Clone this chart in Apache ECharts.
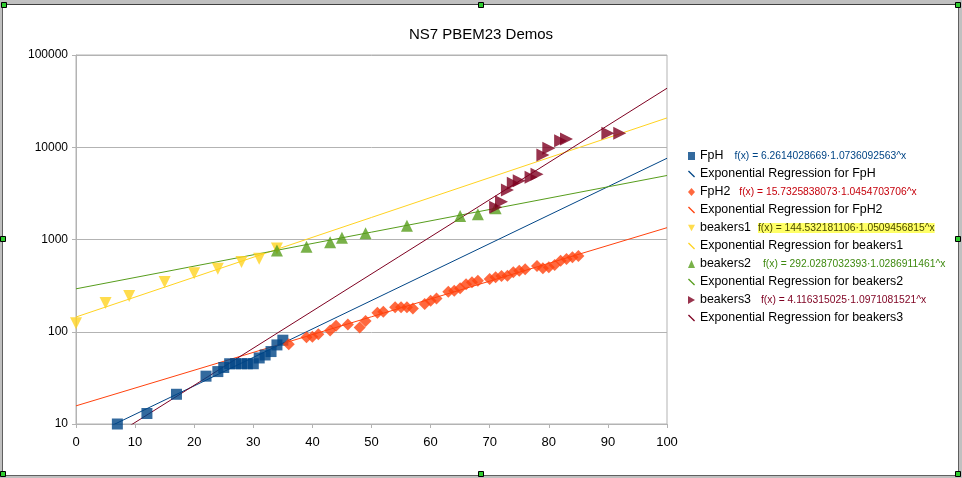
<!DOCTYPE html>
<html><head><meta charset="utf-8">
<script src="https://cdn.jsdelivr.net/npm/echarts@6/dist/echarts.min.js"></script>
<style>html,body{margin:0;padding:0;background:#fff}#c{width:962px;height:478px}</style>
</head><body><div id="c"></div>
<script>
// ---- data ----
const fphX = [7,12,17,22,24,25,26,27,28,29,30,31,32,33,34,35];
const fphY = [10,13,21,33,37,41,45,45,45,45,45,52,56,61,72,81];
const fph2X = [36,39,40,41,43,44,46,48,49,51,52,54,55,56,57,59,60,61,63,64,65,66,67,68,70,71,72,73,74,75,76,78,79,80,81,82,83,84,85];
const fph2Y = [73,87,88,94,103,116,120,111,131,161,165,184,184,184,179,200,217,230,272,279,296,327,344,358,373,389,402,405,441,459,475,516,487,500,529,589,615,641,662];
const b1X = [0,5,9,15,20,24,28,31,34];
const b1Y = [124,205,244,346,430,482,570,620,800];
const b2X = [34,39,43,45,49,56,65,68,71];
const b2Y = [760,836,933,1047,1167,1412,1797,1876,2178];
const b3X = [71,72,73,74,75,77,78,79,80,82,83,90,92];
const b3Y = [2234,2570,3441,4066,4345,4722,5090,8241,9750,11780,12280,14170,14170];
// regression line end points (x = 0 and x = 100)
const regX = [0, 100];
const regFpH = [6.2614, 7597];
const regFpH2 = [15.7326, 1343];
const regB1 = [144.532, 20800];
const regB2 = [292.029, 4942];
const regB3 = [4.1163, 43620];
const xTicks = [0,10,20,30,40,50,60,70,80,90,100];
const yTicks = [10,100,1000,10000,100000];
const equations = {
  'FpH': ['eqA', 'f(x) = 6.2614028669·1.0736092563^x'],
  'FpH2': ['eqB', 'f(x) = 15.7325838073·1.0454703706^x'],
  'beakers1': ['eqC', 'f(x) = 144.532181106·1.0509456815^x'],
  'beakers2': ['eqD', 'f(x) = 292.0287032393·1.0286911461^x'],
  'beakers3': ['eqE', 'f(x) = 4.116315025·1.0971081521^x']
};
// ---- styling ----
const C = {fph:'#004586', fph2:'#ff420e', b1:'#ffd320', b2:'#579d1c', b3:'#7e0021'};
const FONT = 'Liberation Sans, Arial, sans-serif';
const zip = (a,b) => a.map((v,i)=>[v,b[i]]);
const SYM_DOWN = 'path://M0,0L10,0L5,9Z';
const SYM_RIGHT = 'path://M0,0L9,5L0,10Z';
const SYM_SLASH = 'path://M0,1.3L1.3,0L10,8.7L8.7,10Z';

function scatter(name, x, y, color, symbol, size) {
  return {name, type:'scatter', data: zip(x,y), symbol, symbolSize:size, clip:false, z:5,
    itemStyle:{color}};
}
function reg(name, y, color) {
  return {name, type:'line', data: zip(regX,y), symbol:'none', clip:true, z:3,
    lineStyle:{color, width:1}, itemStyle:{color}};
}
const series = [
  scatter('FpH', fphX, fphY, C.fph, 'rect', 11),
  reg('Exponential Regression for FpH', regFpH, C.fph),
  scatter('FpH2', fph2X, fph2Y, C.fph2, 'diamond', 12),
  reg('Exponential Regression for FpH2', regFpH2, C.fph2),
  scatter('beakers1', b1X, b1Y, C.b1, SYM_DOWN, 12),
  reg('Exponential Regression for beakers1', regB1, C.b1),
  scatter('beakers2', b2X, b2Y, C.b2, 'triangle', 12),
  reg('Exponential Regression for beakers2', regB2, C.b2),
  scatter('beakers3', b3X, b3Y, C.b3, SYM_RIGHT, 13),
  reg('Exponential Regression for beakers3', regB3, C.b3)
];
const legendData = series.map(s => {
  const isLine = s.type === 'line';
  return {name: s.name, icon: isLine ? SYM_SLASH : (s.symbol === 'rect' ? 'rect' : s.symbol)};
});

const handles = [[4,5],[481,5],[958,5],[3,239],[958,239],[3,474],[481,474],[958,474]];
const graphic = [
  {type:'rect', shape:{x:0,y:0,width:962,height:4}, style:{fill:'#c0c0c0'}, z:100},
  {type:'line', shape:{x1:0,y1:4.5,x2:962,y2:4.5}, style:{stroke:'#404040',lineWidth:1}, z:100},
  {type:'rect', shape:{x:0,y:0,width:2,height:478}, style:{fill:'#c0c0c0'}, z:100},
  {type:'line', shape:{x1:2.5,y1:4,x2:2.5,y2:476}, style:{stroke:'#606060',lineWidth:1}, z:100},
  {type:'rect', shape:{x:959,y:0,width:3,height:478}, style:{fill:'#c0c0c0'}, z:100},
  {type:'line', shape:{x1:958.5,y1:4,x2:958.5,y2:476}, style:{stroke:'#606060',lineWidth:1}, z:100},
  {type:'rect', shape:{x:0,y:476,width:962,height:2}, style:{fill:'#c0c0c0'}, z:100},
  {type:'line', shape:{x1:2,y1:475.5,x2:959,y2:475.5}, style:{stroke:'#606060',lineWidth:1}, z:100}
].concat(handles.map(h => ({type:'rect', shape:{x:h[0]-2.5,y:h[1]-2.5,width:5,height:5},
  style:{fill:'#2ecc2e', stroke:'#000', lineWidth:1}, z:101})));

const chart = echarts.init(document.getElementById('c'), null, {renderer:'canvas'});
chart.setOption({
  animation:false,
  backgroundColor:'#ffffff',
  textStyle:{fontFamily:FONT},
  title:{text:'NS7 PBEM23 Demos', left:'center', top:22,
    textStyle:{fontFamily:FONT, fontSize:15, fontWeight:'normal', color:'#000'}},
  grid:{left:76, top:55, width:591, height:369, show:true, borderColor:'#b3b3b3', borderWidth:1, backgroundColor:'transparent'},
  xAxis:{type:'value', min:0, max:100, interval:10,
    axisLine:{show:true, lineStyle:{color:'#b3b3b3'}},
    axisTick:{show:true, length:4, lineStyle:{color:'#b3b3b3'}},
    splitLine:{show:false},
    axisLabel:{color:'#000', fontSize:13, fontFamily:FONT, margin:12,
      formatter: v => xTicks.includes(v) ? String(v) : ''}},
  yAxis:{type:'log', logBase:10, min:10, max:100000,
    axisLine:{show:true, lineStyle:{color:'#b3b3b3'}},
    axisTick:{show:true, length:4, lineStyle:{color:'#b3b3b3'}},
    splitLine:{show:true, lineStyle:{color:'#b3b3b3', width:1}},
    minorTick:{show:false},
    axisLabel:{color:'#000', fontSize:12, fontFamily:FONT, margin:8,
      formatter: v => { const r = Math.round(v); return yTicks.includes(r) ? String(r) : ''; }}},
  legend:{orient:'vertical', left:688, top:149, padding:0, itemWidth:7, itemHeight:8, itemGap:4.0,
    data:legendData,
    textStyle:{fontFamily:FONT, fontSize:12.4, color:'#000', lineHeight:14,
      rich:{
        eqA:{color:'#004586', fontSize:10.3, fontFamily:FONT, padding:[0,0,0,11]},
        eqB:{color:'#c5000b', fontSize:10.3, fontFamily:FONT, padding:[0,0,0,9]},
        eqC:{color:'#4a4a00', fontSize:10.3, fontFamily:FONT, backgroundColor:'#ffff66', padding:[0,0,0,0]},
        eqD:{color:'#3f8a10', fontSize:10.3, fontFamily:FONT, padding:[0,0,0,12]},
        eqE:{color:'#7e0021', fontSize:10.3, fontFamily:FONT, padding:[0,0,0,10]},
        gc:{width:7}
      }},
    formatter: name => {
      const e = equations[name];
      if (!e) return name;
      return name + (e[0] === 'eqC' ? '{gc|}' : '') + '{' + e[0] + '|' + e[1] + '}';
    }},
  graphic: graphic,
  series: series
});
</script></body></html>
